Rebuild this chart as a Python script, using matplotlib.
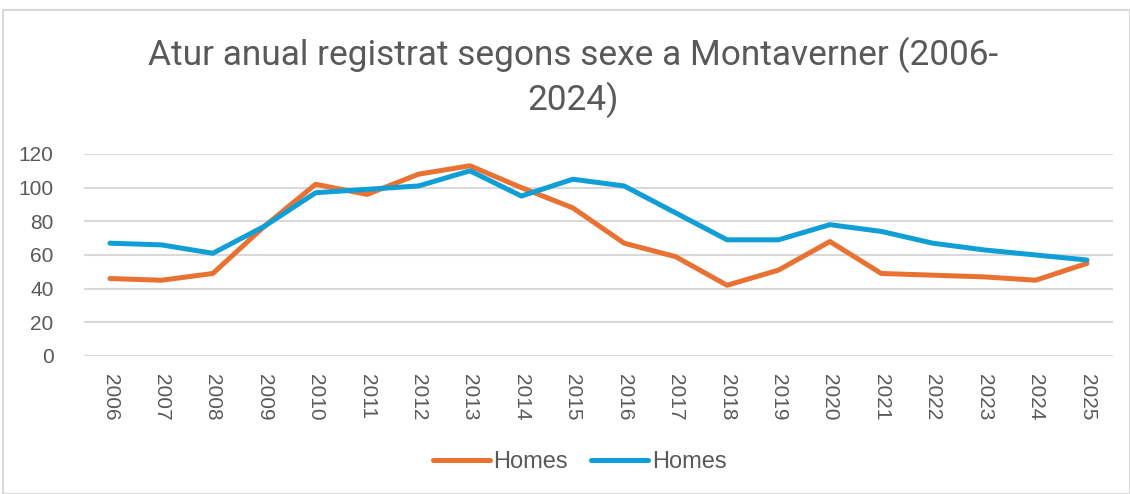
import matplotlib
matplotlib.use("Agg")
import matplotlib.pyplot as plt
from matplotlib.patches import Rectangle

years = ["2006", "2007", "2008", "2009", "2010", "2011", "2012", "2013", "2014", "2015",
         "2016", "2017", "2018", "2019", "2020", "2021", "2022", "2023", "2024", "2025"]
homes_a = [46, 45, 49, 77, 102, 96, 108, 113, 100, 88, 67, 59, 42, 51, 68, 49, 48, 47, 45, 55]
homes_b = [67, 66, 61, 77, 97, 99, 101, 110, 95, 105, 101, 85, 69, 69, 78, 74, 67, 63, 60, 57]

orange = "#E97132"
blue = "#0F9ED5"
grey_txt = "#595959"

plt.rcParams["font.family"] = ["Liberation Sans", "DejaVu Sans"]

fig = plt.figure(figsize=(11.3, 4.94), dpi=100)
ax = fig.add_axes([0.0746, 0.2794, 0.9101, 0.4089])

# outer chart border
fig.patches.append(Rectangle((3 / 1130, 0), 1 - 3 / 1130, 1 - 10 / 494, transform=fig.transFigure,
                             fill=False, edgecolor="#D9D9D9", linewidth=1.5))

x = list(range(len(years)))
ax.plot(x, homes_a, color=orange, linewidth=3.6, solid_capstyle="round", solid_joinstyle="round", label="Homes")
ax.plot(x, homes_b, color=blue, linewidth=3.6, solid_capstyle="round", solid_joinstyle="round", label="Homes")

ax.set_xlim(-0.5, len(years) - 0.5)
ax.set_ylim(0, 120)
ax.set_yticks(range(0, 121, 20))
ax.set_xticks(x)
ax.set_xticklabels(years, rotation=-90)
ax.tick_params(axis="both", length=0, labelsize=15, labelcolor=grey_txt)
ax.tick_params(axis="x", pad=13)
ax.tick_params(axis="y", pad=22)
ax.grid(axis="y", color="#D9D9D9", linewidth=1.5)
ax.set_axisbelow(True)
for s in ax.spines.values():
    s.set_visible(False)

fig.text(0.5075, 1 - 55 / 494, "Atur anual registrat segons sexe a Montaverner (2006-",
         ha="center", va="center", fontsize=25.4, color=grey_txt, family=["Roboto", "DejaVu Sans"])
fig.text(0.5075, 1 - 100 / 494, "2024)",
         ha="center", va="center", fontsize=25.4, color=grey_txt, family=["Roboto", "DejaVu Sans"])

fig.legend(loc="center", bbox_to_anchor=(0.513, 1 - 462 / 494), ncol=2, frameon=False,
           fontsize=17, labelcolor=grey_txt, handlelength=2.4, handletextpad=0.15, columnspacing=1.0)

fig.savefig("out.png", dpi=100)
